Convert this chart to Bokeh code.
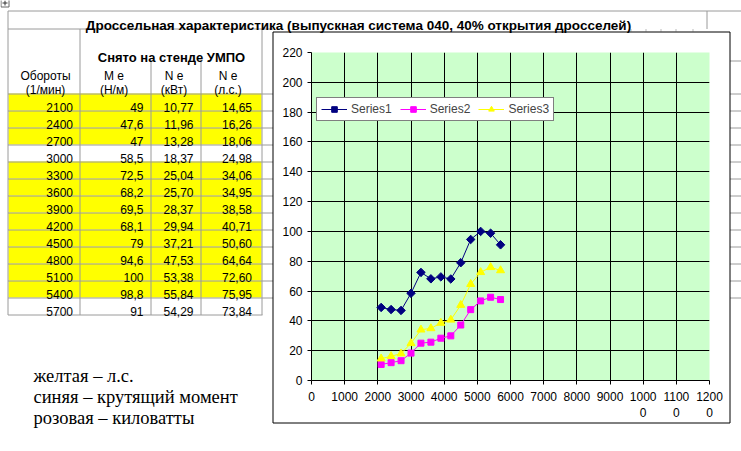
import numpy as np
from bokeh.plotting import figure
from bokeh.models import Range1d, FixedTicker, Legend, LegendItem
from bokeh.core.properties import value
from bokeh.embed import file_html
from bokeh.resources import INLINE

# ---------------- data ----------------
rpm = [2100, 2400, 2700, 3000, 3300, 3600, 3900, 4200, 4500, 4800, 5100, 5400, 5700]
torque_nm = [49, 47.6, 47, 58.5, 72.5, 68.2, 69.5, 68.1, 79, 94.6, 100, 98.8, 91]
power_kw = [10.77, 11.96, 13.28, 18.37, 25.04, 25.70, 28.37, 29.94, 37.21, 47.53, 53.38, 55.84, 54.29]
power_hp = [14.65, 16.26, 18.06, 24.98, 34.06, 34.95, 38.58, 40.71, 50.60, 64.64, 72.60, 75.95, 73.84]
row_highlight = [1, 1, 1, 0, 1, 1, 1, 1, 1, 1, 1, 1, 0]
series_names = ["Series1", "Series2", "Series3"]
x_ticks = [0, 1000, 2000, 3000, 4000, 5000, 6000, 7000, 8000, 9000, 10000, 11000, 12000]
x_tick_labels = ["0", "1000", "2000", "3000", "4000", "5000", "6000", "7000", "8000",
                 "9000", "1000\n0", "1100\n0", "1200\n0"]
x_grid = [1000, 2000, 3000, 4000, 5000, 6000, 7000, 8000, 9000, 10000, 11000]
y_ticks = [0, 20, 40, 60, 80, 100, 120, 140, 160, 180, 200, 220]
y_grid = [20, 40, 60, 80, 100, 120, 140, 160, 180, 200]
title_text = "Дроссельная характеристика (выпускная система 040, 40% открытия дросселей)"
group_header = "Снято на стенде УМПО"
col_header_top = ["Обороты", "M e", "N e", "N e"]
col_header_bottom = ["(1/мин)", "(Н/м)", "(кВт)", "(л.с.)"]
notes = ["желтая – л.с.", "синяя – крутящий момент", "розовая – киловатты"]

# ---------------- styles / layout (page pixels) ----------------
W, H = 741, 451
FL, FR, FT, FB = 311, 709, 52, 380        # chart frame (green area)
SHIFT = 5                                 # vertical calibration of the sheet figure
SANS = "Liberation Sans"
SERIF = "Liberation Serif"
GRAY = "#9a9a9a"
YELLOW = "#FFFF00"
series_colors = ["#000080", "#FF00FF", "#FFFF00"]
series_markers = ["square", "square", "triangle"]
series_angles = [np.pi / 4, 0, 0]
series_sizes = [6, 6, 8]

ROW_TOP0, ROW_H = 98, 17
cell_right = [72.5, 143, 193, 251.5]
head_center = [45, 113.5, 173.5, 227.5]
BOX_L, BOX_R, BOX_T, BOX_B = 272.5, 729.5, 36.5, 427.5
ABS = {"position": "absolute", "left": "0px", "top": "0px"}

# ---------------- sheet (background figure, page pixel coordinates) ----------------
S = figure(width=W, height=H, x_range=Range1d(0, W), y_range=Range1d(H + SHIFT, SHIFT),
           output_backend="svg", toolbar_location=None, x_axis_type=None, y_axis_type=None,
           title=None, min_border=0, min_border_left=0, min_border_right=0,
           min_border_top=0, min_border_bottom=0, outline_line_color=None,
           background_fill_color="white", border_fill_color="white", styles=ABS)


def fmt_general(v):
    return ("%g" % v).replace(".", ",")


def fmt2(v):
    return f"{v:.2f}".replace(".", ",")


n = len(rpm)
hl = [i for i in range(n) if row_highlight[i]]
S.quad(left=[8] * len(hl), right=[261] * len(hl),
       top=[ROW_TOP0 + ROW_H * i for i in hl], bottom=[ROW_TOP0 + ROW_H * (i + 1) for i in hl],
       fill_color=YELLOW, line_color=None)
tab_bottom = ROW_TOP0 + ROW_H * n + 0.5
hy = [ROW_TOP0 + ROW_H * i + 0.5 for i in range(n + 1)]
# horizontal sheet lines
S.segment(x0=[7.5, 7.5] + [7.5] * (n + 1),
          y0=[15.5, 33.5] + hy,
          x1=[W, BOX_L] + [BOX_L] * n + [262],
          y1=[15.5, 33.5] + hy, line_color=GRAY)
ry = [65.5] + hy[:-1]
S.segment(x0=[BOX_R] * len(ry), y0=ry, x1=[W] * len(ry), y1=ry, line_color=GRAY)
# vertical sheet lines
vx = [7.5, 79.5, 150.5, 200.5, 261.5, 706.5]
S.segment(x0=vx, y0=[15.5, 33.5, 65, 65, 33.5, 15.5], x1=vx,
          y1=[tab_bottom] * 5 + [33.5], line_color=GRAY)
# small gray column marks peeking above the chart box
mk_x = [630.5, 645.5, 660.5, 675.5, 692.5]
S.segment(x0=mk_x, y0=[33.5] * 5, x1=mk_x, y1=[36] * 5, line_color="#bbbbbb")
# sheet corner icon
S.quad(left=[0.5], right=[8.5], top=[1.5], bottom=[11.5], fill_color="white",
       line_color="#666666")
S.segment(x0=[2, 4.5], y0=[7.5, 5], x1=[7, 4.5], y1=[7.5, 10], line_color="#333333")
# chart box
S.quad(left=[BOX_L], right=[BOX_R], top=[BOX_T], bottom=[BOX_B], fill_color="white",
       line_color="black", line_width=1)

S.text(x=[358], y=[29.5], text=[title_text], text_font=value(SANS), text_font_size="13.5px",
       text_font_style="bold", text_align="center", text_baseline="alphabetic")
S.text(x=[171], y=[61.7], text=[group_header], text_font=value(SANS), text_font_size="13px",
       text_font_style="bold", text_align="center", text_baseline="alphabetic")
S.text(x=head_center, y=[80] * 4, text=col_header_top, text_font=value(SANS),
       text_font_size="12px", text_align="center", text_baseline="alphabetic")
S.text(x=head_center, y=[94.8] * 4, text=col_header_bottom, text_font=value(SANS),
       text_font_size="12px", text_align="center", text_baseline="alphabetic")
columns_text = [[str(v) for v in rpm], [fmt_general(v) for v in torque_nm],
                [fmt2(v) for v in power_kw], [fmt2(v) for v in power_hp]]
for c_i, texts in enumerate(columns_text):
    S.text(x=[cell_right[c_i]] * n, y=[ROW_TOP0 + ROW_H * i + 13.5 for i in range(n)],
           text=texts, text_font=value(SANS), text_font_size="12px",
           text_align="right", text_baseline="alphabetic", text_color="black")
S.text(x=[33] * 3, y=[380.5, 401.7, 422.8], text=notes, text_font=value(SERIF),
       text_font_size="18.5px", text_align="left", text_baseline="alphabetic")

# ---------------- chart (overlaid figure, transparent borders) ----------------
C = figure(width=W, height=H, x_range=Range1d(0, 12000), y_range=Range1d(0, 220),
           output_backend="svg", toolbar_location=None, title=None,
           min_border_left=FL, min_border_right=W - FR, min_border_top=FT,
           min_border_bottom=H - FB, background_fill_color="#CCFFCC",
           border_fill_color="white", border_fill_alpha=0, outline_line_color=None,
           styles=ABS)
for ax in (C.xaxis[0], C.yaxis[0]):
    ax.axis_line_color = "black"
    ax.major_tick_line_color = "black"
    ax.minor_tick_line_color = None
    ax.major_tick_in = 0
    ax.major_tick_out = 4
    ax.major_label_text_font = SANS
    ax.major_label_text_font_size = "12px"
    ax.major_label_text_color = "black"
    ax.major_label_standoff = 5
C.xaxis.ticker = FixedTicker(ticks=x_ticks)
C.xaxis.major_label_overrides = {t: lab for t, lab in zip(x_ticks, x_tick_labels)}
C.yaxis.ticker = FixedTicker(ticks=y_ticks)
C.xgrid.ticker = FixedTicker(ticks=x_grid)
C.ygrid.ticker = FixedTicker(ticks=y_grid)
for g in (C.xgrid[0], C.ygrid[0]):
    g.grid_line_color = "black"
    g.grid_line_width = 1
    g.grid_line_alpha = 1

items = []
for name, vals, col, mk, ang, sz in zip(series_names, [torque_nm, power_kw, power_hp],
                                        series_colors, series_markers, series_angles, series_sizes):
    lr = C.line(rpm, vals, line_color=col, line_width=1)
    sr = C.scatter(rpm, vals, marker=mk, angle=ang, size=sz, fill_color=col, line_color=col)
    items.append(LegendItem(label=name, renderers=[lr, sr]))
legend = Legend(items=items, orientation="horizontal", location=(5, 259), margin=0,
                padding=4, spacing=8, glyph_width=26, glyph_height=14, label_standoff=4,
                label_text_font=SANS, label_text_font_size="12px", label_height=14,
                border_line_color="black", border_line_width=1,
                background_fill_color="white", background_fill_alpha=1)
C.add_layout(legend)

# two independent roots, stacked on the same spot (sheet below, chart on top)
open("out.html", "w").write(file_html([S, C], INLINE))
